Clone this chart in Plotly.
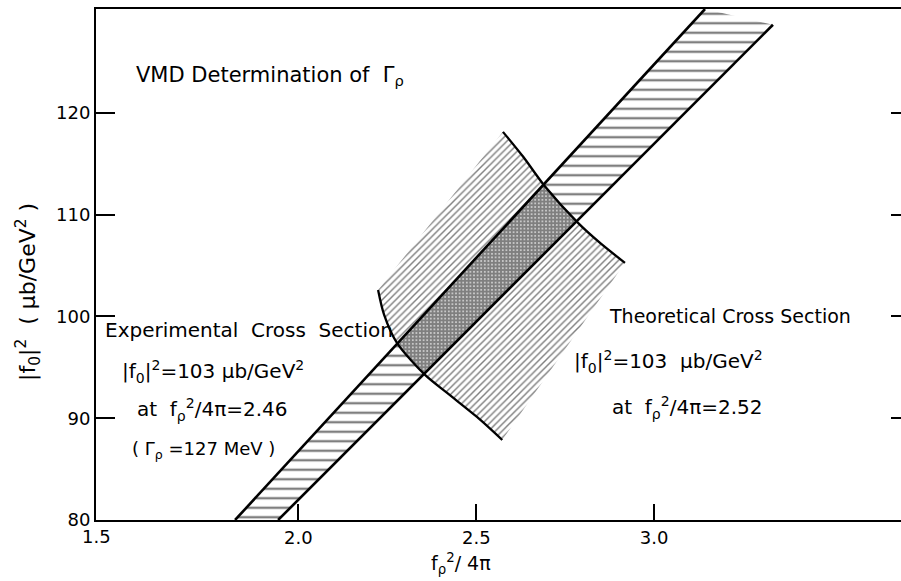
import plotly.graph_objects as go

# ---------------- data ----------------
x_range = [1.431, 3.694]
y_range = [80.0, 130.2]
x_tickvals = [2.0, 2.5, 3.0]
x_ticktext = ["2.0", "2.5", "3.0"]
y_tickvals = [80, 90, 100, 110, 120]
y_ticktext = ["80", "90", "100", "110", "120"]
y_right_tickvals = [90, 100, 110, 120]
corner_x_label = "1.5"

# experimental band (edges)
band_left_x = [1.822, 3.143]
band_left_y = [80.0, 130.2]
band_right_x = [1.943, 3.334]
band_right_y = [80.0, 128.65]

# theoretical region boundaries (arcs)
left_arc_x = [2.224, 2.241, 2.277, 2.356, 2.418, 2.502, 2.573]
left_arc_y = [102.60, 100.15, 97.40, 94.25, 92.48, 90.12, 87.86]
right_arc_x = [2.575, 2.632, 2.694, 2.786, 2.848, 2.918]
right_arc_y = [118.13, 115.68, 112.73, 109.19, 107.22, 105.26]

FONT = "DejaVu Sans"
NB = "\u00a0"

# ---------------- geometry helpers ----------------
def line_poly_hit(lx, ly, px, py):
    ax, ay = lx[0], ly[0]
    dx, dy = lx[1] - lx[0], ly[1] - ly[0]
    def side(x, y):
        return dx * (y - ay) - dy * (x - ax)
    for i in range(len(px) - 1):
        s0, s1 = side(px[i], py[i]), side(px[i + 1], py[i + 1])
        if s0 * s1 <= 0 and s0 != s1:
            t = s0 / (s0 - s1)
            return i, px[i] + t * (px[i + 1] - px[i]), py[i] + t * (py[i + 1] - py[i])
    return None

iA, Ax, Ay = line_poly_hit(band_left_x, band_left_y, left_arc_x, left_arc_y)
iB, Bx, By = line_poly_hit(band_right_x, band_right_y, left_arc_x, left_arc_y)
iD, Dx, Dy = line_poly_hit(band_left_x, band_left_y, right_arc_x, right_arc_y)
iC, Cx, Cy = line_poly_hit(band_right_x, band_right_y, right_arc_x, right_arc_y)

inter_x = [Ax] + left_arc_x[iA + 1:iB + 1] + [Bx, Cx] + right_arc_x[iD + 1:iC + 1][::-1] + [Dx, Ax]
inter_y = [Ay] + left_arc_y[iA + 1:iB + 1] + [By, Cy] + right_arc_y[iD + 1:iC + 1][::-1] + [Dy, Ay]

theo_x = left_arc_x + right_arc_x[::-1] + [left_arc_x[0]]
theo_y = left_arc_y + right_arc_y[::-1] + [left_arc_y[0]]

band_x = [band_left_x[0], band_right_x[0], band_right_x[1], band_left_x[1], band_left_x[0]]
band_y = [band_left_y[0], band_right_y[0], band_right_y[1], band_left_y[1], band_left_y[0]]

# pixel -> data helpers for text placement
def px2x(px):
    return 2.0 + (px - 298.3) / 355.7

def py2y(py):
    return 80.0 + (520.0 - py) / 10.175

fig = go.Figure()

# theoretical region, thin diagonal hatching
fig.add_trace(go.Scatter(
    x=theo_x, y=theo_y, mode="lines", fill="toself", fillcolor="white",
    line=dict(width=0, color="white"),
    fillpattern=dict(shape="/", size=4.8, solidity=0.3, fgcolor="black", bgcolor="white"),
    hoverinfo="skip", showlegend=False))

# experimental band, horizontal hatching
fig.add_trace(go.Scatter(
    x=band_x, y=band_y, mode="lines", fill="toself", fillcolor="white",
    line=dict(width=0, color="white"),
    fillpattern=dict(shape="-", size=9.5, solidity=0.25, fgcolor="black", bgcolor="white"),
    hoverinfo="skip", showlegend=False))

# overlap, dense cross hatching
fig.add_trace(go.Scatter(
    x=inter_x, y=inter_y, mode="lines", fill="toself", fillcolor="white",
    line=dict(width=0, color="white"),
    fillpattern=dict(shape="+", size=3.6, solidity=0.86, fgcolor="black", bgcolor="white"),
    hoverinfo="skip", showlegend=False))

# band edges
for xs, ys in [(band_left_x, band_left_y), (band_right_x, band_right_y)]:
    fig.add_trace(go.Scatter(x=xs, y=ys, mode="lines",
                             line=dict(color="black", width=2.6),
                             hoverinfo="skip", showlegend=False))
# arcs
for xs, ys in [(left_arc_x, left_arc_y), (right_arc_x, right_arc_y)]:
    fig.add_trace(go.Scatter(x=xs, y=ys, mode="lines",
                             line=dict(color="black", width=2.3, shape="spline", smoothing=0.8),
                             hoverinfo="skip", showlegend=False))

# invisible trace for right-hand tick axis
fig.add_trace(go.Scatter(x=[x_range[0]], y=[y_range[0]], yaxis="y2", mode="markers",
                         marker=dict(opacity=0), hoverinfo="skip", showlegend=False))

ann = []
def add_text(text, px, py, size=20, xanchor="left", angle=0):
    ann.append(dict(text=text, x=px2x(px), y=py2y(py), xref="x", yref="y",
                    xanchor=xanchor, yanchor="middle", showarrow=False,
                    textangle=angle, font=dict(family=FONT, size=size, color="black")))

add_text("VMD Determination of " + NB + "Γ<sub>ρ</sub>", 134, 76, size=21)
add_text("Experimental" + NB + " Cross" + NB + " Section", 103, 330, size=20)
add_text("|f<sub>0</sub>|<sup>2</sup>=103 μb/GeV<sup>2</sup>", 120, 372, size=20)
add_text("at " + NB + "f<sub>ρ</sub><sup>2</sup>/4π=2.46", 135, 410, size=20)
add_text("( Γ<sub>ρ</sub> =127 MeV )", 130, 450, size=18)
add_text("Theoretical Cross Section", 607, 316, size=19)
add_text("|f<sub>0</sub>|<sup>2</sup>=103 " + NB + "μb/GeV<sup>2</sup>", 572, 362, size=20)
add_text("at " + NB + "f<sub>ρ</sub><sup>2</sup>/4π=2.52", 610, 408, size=20)

layout_ann = ann + [
    dict(text=corner_x_label, x=0.0, y=-0.033, xref="paper", yref="paper",
         xanchor="center", yanchor="middle", showarrow=False,
         font=dict(family=FONT, size=18, color="black")),
    dict(text="f<sub>ρ</sub><sup>2</sup>/ 4π", x=(461 - 96) / 805, y=-(563 - 520) / 511,
         xref="paper", yref="paper", xanchor="center", yanchor="middle", showarrow=False,
         font=dict(family=FONT, size=19, color="black")),
    dict(text="|f<sub>0</sub>|<sup>2</sup>" + NB + " (" + NB + "μb/GeV<sup>2</sup>" + NB + ")",
         x=(28 - 96) / 805, y=(520 - 292) / 511, xref="paper", yref="paper",
         xanchor="center", yanchor="middle",
         textangle=-90, showarrow=False, font=dict(family=FONT, size=22, color="black")),
]

fig.update_layout(
    width=901, height=581,
    margin=dict(l=96, r=0, t=9, b=61),
    paper_bgcolor="white", plot_bgcolor="white",
    font=dict(family=FONT, size=18, color="black"),
    xaxis=dict(range=x_range, tickvals=x_tickvals, ticktext=x_ticktext,
               ticks="inside", ticklen=16, tickwidth=2, tickcolor="black",
               showline=True, linewidth=2, linecolor="black", mirror=True,
               showgrid=False, zeroline=False, tickfont=dict(size=18)),
    yaxis=dict(range=y_range, tickvals=y_tickvals, ticktext=y_ticktext,
               ticks="inside", ticklen=19, tickwidth=2, tickcolor="black",
               showline=True, linewidth=2, linecolor="black", mirror=False,
               showgrid=False, zeroline=False, tickfont=dict(size=18)),
    yaxis2=dict(range=y_range, overlaying="y", side="right", tickvals=y_right_tickvals,
                ticks="inside", ticklen=10, tickwidth=2, tickcolor="black",
                showticklabels=False, showline=False, showgrid=False, zeroline=False),
    annotations=layout_ann,
    showlegend=False,
)

fig.write_html("out.html", config={"displayModeBar": False},
               post_script="document.body.style.margin='0px';")
